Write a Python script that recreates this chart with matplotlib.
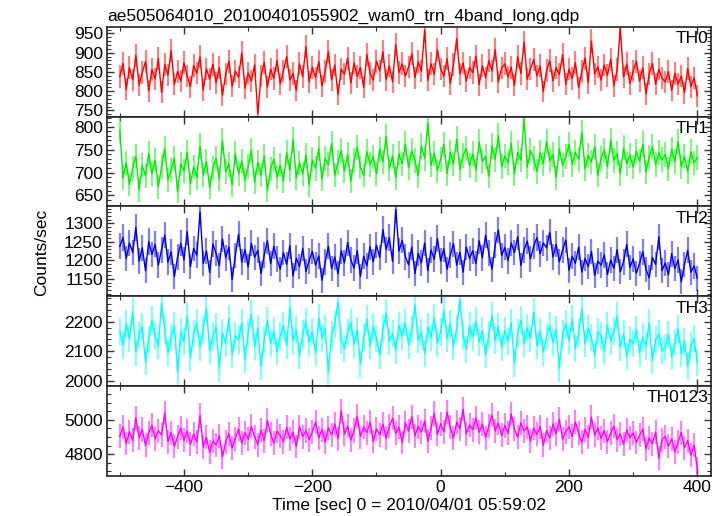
import numpy as np
import matplotlib
matplotlib.use("Agg")
import matplotlib.pyplot as plt
from matplotlib.ticker import MultipleLocator

plt.rcParams['font.family'] = ['Liberation Sans', 'DejaVu Sans']

# ==============================================
# data (5 s bins)
# ==============================================
TITLE = "ae505064010_20100401055902_wam0_trn_4band_long.qdp"
t_start, t_stop, t_bin = -500, 400, 5

th0 = [
    838, 872, 805, 861, 829, 893, 816, 848, 877, 801,
    856, 832, 884, 797, 869, 842, 905, 818, 851, 826,
    874, 839, 812, 866, 847, 889, 803, 858, 831, 870,
    822, 861, 790, 845, 878, 813, 852, 836, 899, 808,
    847, 826, 868, 742, 839, 875, 811, 857, 833, 880,
    819, 853, 890, 829, 846, 802, 871, 838, 916, 824,
    862, 835, 877, 814, 851, 903, 829, 868, 791, 857,
    844, 886, 821, 873, 838, 861, 810, 895, 846, 829,
    878, 853, 902, 830, 866, 824, 921, 848, 871, 839,
    863, 897, 835, 876, 852, 959, 828, 871, 844, 908,
    857, 839, 884, 820, 869, 936, 845, 873, 826, 862,
    848, 891, 817, 866, 835, 879, 853, 908, 824, 860,
    871, 837, 862, 815, 889, 846, 927, 831, 858, 882,
    840, 866, 799, 854, 879, 827, 861, 843, 895, 818,
    857, 833, 874, 809, 851, 886, 822, 930, 845, 863,
    829, 868, 841, 883, 814, 856, 963, 837, 871, 820,
    852, 878, 826, 861, 793, 845, 872, 818, 857, 834,
    824, 851, 802, 846, 818, 839, 796, 859, 812, 835,
    788,
]
th1 = [
    792, 688, 721, 674, 709, 736, 662, 715, 693, 741,
    698, 727, 669, 713, 752, 684, 706, 731, 658, 719,
    703, 744, 676, 712, 689, 758, 695, 724, 667, 710,
    731, 686, 769, 702, 718, 673, 741, 697, 725, 684,
    713, 748, 679, 722, 694, 736, 661, 708, 729, 690,
    716, 682, 743, 705, 771, 688, 721, 697, 738, 673,
    728, 709, 752, 686, 731, 717, 764, 694, 722, 748,
    703, 739, 681, 726, 755, 712, 694, 745, 718, 734,
    697, 751, 723, 779, 708, 736, 689, 741, 719, 762,
    711, 747, 726, 693, 758, 731, 809, 716, 742, 704,
    729, 761, 698, 744, 719, 773, 707, 738, 752, 715,
    741, 706, 767, 724, 735, 692, 758, 729, 781, 713,
    736, 721, 764, 697, 744, 727, 817, 712, 748, 731,
    702, 743, 719, 768, 726, 739, 689, 752, 716, 735,
    761, 718, 744, 729, 787, 708, 737, 723, 756, 694,
    731, 749, 713, 770, 726, 741, 698, 754, 719, 738,
    712, 746, 725, 762, 701, 734, 756, 717, 743, 728,
    739, 708, 751, 724, 767, 713, 736, 702, 745, 721,
    733,
]
th2 = [
    1238, 1262, 1205, 1247, 1221, 1289, 1198, 1234, 1172, 1251,
    1216, 1243, 1187, 1229, 1268, 1195, 1223, 1156, 1209, 1246,
    1201, 1278, 1183, 1232, 1214, 1331, 1192, 1225, 1167, 1244,
    1219, 1186, 1258, 1207, 1236, 1148, 1213, 1271, 1195, 1229,
    1182, 1246, 1208, 1227, 1164, 1215, 1253, 1191, 1238, 1203,
    1176, 1221, 1189, 1240, 1158, 1206, 1183, 1232, 1170, 1199,
    1224, 1187, 1212, 1146, 1195, 1238, 1178, 1209, 1163, 1226,
    1193, 1248, 1201, 1179, 1226, 1157, 1211, 1185, 1237, 1196,
    1241, 1208, 1283, 1229, 1262, 1197, 1338, 1225, 1254, 1210,
    1188, 1236, 1164, 1219, 1193, 1247, 1172, 1228, 1203, 1259,
    1198, 1231, 1176, 1214, 1245, 1187, 1222, 1168, 1236, 1205,
    1226, 1191, 1253, 1207, 1268, 1219, 1176, 1241, 1282, 1213,
    1235, 1199, 1247, 1221, 1264, 1186, 1229, 1252, 1204, 1238,
    1262, 1218, 1247, 1234, 1276, 1209, 1243, 1196, 1228, 1255,
    1173, 1211, 1192, 1236, 1168, 1205, 1183, 1224, 1159, 1198,
    1187, 1215, 1162, 1201, 1178, 1229, 1169, 1196, 1243, 1181,
    1204, 1165, 1192, 1223, 1176, 1153, 1208, 1189, 1264, 1172,
    1193, 1161, 1218, 1178, 1201, 1142, 1189, 1227, 1168, 1185,
    1152,
]
th3 = [
    2168, 2121, 2193, 2142, 2235, 2097, 2156, 2184, 2063, 2139,
    2207, 2153, 2118, 2262, 2171, 2094, 2146, 2188, 2031, 2165,
    2132, 2219, 2077, 2158, 2196, 2113, 2174, 2245, 2102, 2149,
    2183, 2041, 2162, 2127, 2211, 2089, 2154, 2138, 2197, 2072,
    2163, 2226, 2115, 2178, 2049, 2141, 2203, 2126, 2169, 2098,
    2152, 2187, 2119, 2248, 2136, 2173, 2084, 2158, 2201, 2131,
    2167, 2094, 2213, 2145, 2178, 2029, 2156, 2191, 2268, 2137,
    2109, 2164, 2198, 2123, 2171, 2056, 2146, 2209, 2118, 2182,
    2143, 2087, 2176, 2229, 2134, 2161, 2103, 2188, 2152, 2197,
    2121, 2174, 2256, 2139, 2163, 2091, 2182, 2147, 2214, 2128,
    2165, 2238, 2142, 2193, 2116, 2177, 2276, 2154, 2107, 2186,
    2149, 2202, 2131, 2169, 2088, 2157, 2221, 2138, 2183, 2112,
    2171, 2134, 2196, 2059, 2162, 2205, 2126, 2179, 2144, 2233,
    2118, 2168, 2097, 2151, 2187, 2129, 2174, 2042, 2158, 2192,
    2136, 2211, 2109, 2163, 2243, 2125, 2178, 2147, 2086, 2165,
    2152, 2101, 2188, 2134, 2167, 2219, 2113, 2159, 2082, 2141,
    2126, 2173, 2094, 2148, 2117, 2196, 2069, 2139, 2158, 2102,
    2113, 2157, 2081, 2129, 2176, 2092, 2134, 2048, 2118, 2143,
    2061,
]
th0123 = [
    4905, 4958, 4862, 4931, 4880, 5012, 4897, 4944, 4851, 4926,
    4968, 4889, 4937, 4912, 5041, 4873, 4925, 4846, 4903, 4952,
    4881, 4934, 4858, 4917, 4869, 5026, 4842, 4898, 4811, 4876,
    4853, 4907, 4784, 4872, 4919, 4836, 4891, 4948, 4865, 4924,
    4887, 4962, 4903, 4856, 4941, 4879, 4997, 4918, 4864, 4935,
    4908, 4873, 4956, 4889, 4927, 4845, 4961, 4902, 4938, 4884,
    4929, 4987, 4896, 4943, 4871, 4954, 4912, 4976, 4889, 5053,
    4917, 4964, 4882, 4938, 5021, 4903, 4959, 4926, 4986, 4874,
    4948, 4912, 4975, 4893, 4962, 5009, 4921, 4957, 4868, 4983,
    4934, 5018, 4907, 4961, 4929, 4994, 4876, 4952, 5037, 4915,
    4978, 4931, 5046, 4956, 4892, 4987, 4949, 5062, 4918, 4971,
    4943, 5011, 4928, 4976, 4897, 4962, 5028, 4935, 4981, 4909,
    4967, 4921, 5034, 4946, 4898, 4983, 4937, 4959, 4876, 4952,
    4915, 4961, 4852, 4938, 4894, 4976, 4919, 5003, 4887, 4932,
    4958, 4904, 4987, 4921, 4869, 4944, 4898, 5016, 4911, 4953,
    4892, 4937, 4871, 4926, 4963, 4884, 4918, 4857, 4941, 4896,
    4923, 4868, 4909, 4947, 4832, 4894, 4861, 4928, 4776, 4885,
    4903, 4847, 4889, 4814, 4871, 4926, 4838, 4879, 4795, 4852,
    4712,
]

bands = ["TH0", "TH1", "TH2", "TH3", "TH0123"]
series = [th0, th1, th2, th3, th0123]
colors = ["#ff0000", "#00ee00", "#0000ee", "#00ffff", "#ff00ff"]
ylims = [(734, 967), (626, 822), (1103, 1346), (1982, 2287), (4674, 5198)]
major_step = [50, 50, 50, 100, 200]
minor_step = [10, 10, 10, 20, 50]

t = np.arange(t_start, t_stop + 1, t_bin)

# ==============================================
# figure
# ==============================================
fig = plt.figure(figsize=(7.23, 5.16), dpi=100)
fig.subplots_adjust(left=0.148, right=0.984, top=0.948, bottom=0.078, hspace=0)
axes = fig.subplots(5, 1, sharex=True)

for i, ax in enumerate(axes):
    y = np.array(series[i], dtype=float)
    err = np.sqrt(y)  # poisson-like error for 1 s counts
    ax.errorbar(t, y, yerr=err, fmt='none', ecolor=colors[i], alpha=0.5, elinewidth=1.6)
    ax.plot(t, y, color=colors[i], lw=1.0)

    ax.set_xlim(-520, 422)
    ax.set_ylim(*ylims[i])
    ax.yaxis.set_major_locator(MultipleLocator(major_step[i]))
    ax.yaxis.set_minor_locator(MultipleLocator(minor_step[i]))
    ax.xaxis.set_major_locator(MultipleLocator(200))
    ax.xaxis.set_minor_locator(MultipleLocator(100))
    ax.tick_params(which='both', direction='in', top=True, right=True, labelsize=12.5,
                   color='#333333', pad=3)
    ax.tick_params(which='major', length=5, width=1)
    ax.tick_params(which='minor', length=3, width=0.8)
    for sp in ax.spines.values():
        sp.set_linewidth(1.2)
        sp.set_color('#222222')
    ax.text(0.995, 0.95, bands[i], transform=ax.transAxes, ha='right', va='top',
            fontsize=12.5)

axes[0].set_title(TITLE, loc='left', fontsize=12.5, pad=4, x=0.0)
axes[-1].set_xlabel("Time [sec] 0 = 2010/04/01 05:59:02", fontsize=12.5, labelpad=2)
fig.text(0.058, 0.51, "Counts/sec", rotation=90, ha='center', va='center', fontsize=12.5)

plt.savefig("out.png", dpi=100)
